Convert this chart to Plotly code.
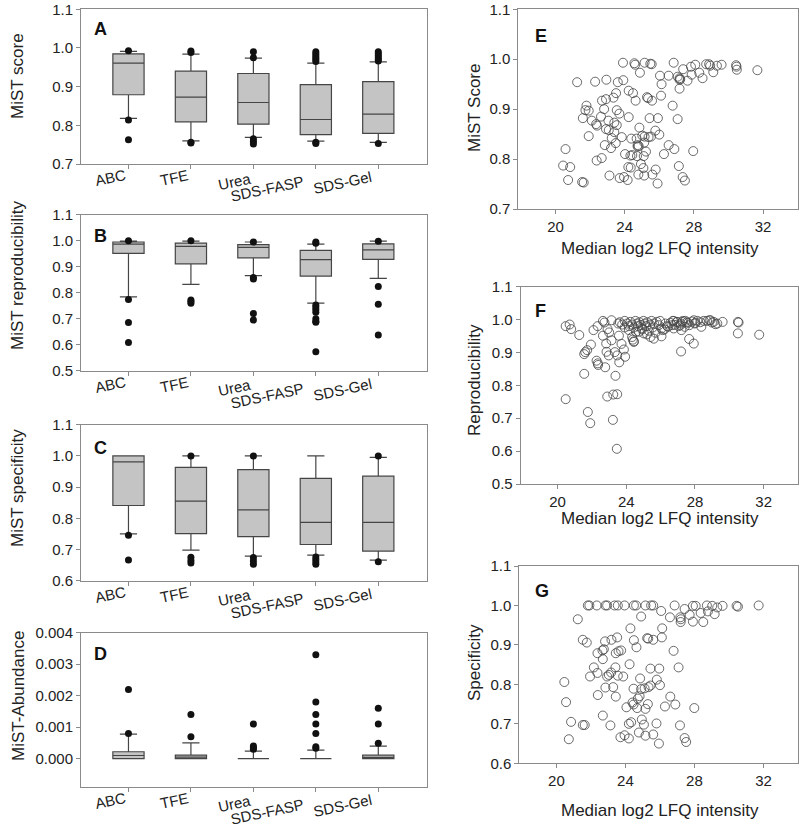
import plotly.graph_objects as go

FONT = "Liberation Sans, Arial, sans-serif"
categories = ["ABC", "TFE", "Urea", "SDS-FASP", "SDS-Gel"]

# ---------- Panel A: MiST score ----------
score_q1 = [0.879, 0.809, 0.803, 0.776, 0.779]
score_median = [0.961, 0.873, 0.859, 0.815, 0.829]
score_q3 = [0.985, 0.940, 0.934, 0.905, 0.913]
score_low = [0.818, 0.760, 0.769, 0.759, 0.756]
score_high = [0.991, 0.984, 0.974, 0.961, 0.964]
score_outliers = [
    [0.993, 0.814, 0.763],
    [0.992, 0.988, 0.754, 0.756],
    [0.990, 0.975, 0.765, 0.758, 0.752],
    [0.990, 0.985, 0.980, 0.975, 0.970, 0.965, 0.753, 0.756],
    [0.990, 0.985, 0.980, 0.975, 0.970, 0.966, 0.753],
]

# ---------- Panel B: MiST reproducibility ----------
repro_q1 = [0.951, 0.911, 0.934, 0.864, 0.928]
repro_median = [0.987, 0.978, 0.974, 0.927, 0.965]
repro_q3 = [0.995, 0.991, 0.985, 0.963, 0.988]
repro_low = [0.784, 0.832, 0.866, 0.760, 0.855]
repro_high = [0.998, 0.998, 0.995, 0.987, 0.998]
repro_outliers = [
    [1.0, 0.774, 0.685, 0.608],
    [1.0, 0.772, 0.766, 0.759],
    [0.995, 0.858, 0.853, 0.720, 0.695],
    [0.995, 0.990, 0.753, 0.745, 0.735, 0.725, 0.700, 0.690, 0.686, 0.573],
    [0.998, 0.824, 0.756, 0.637],
]

# ---------- Panel C: MiST specificity ----------
spec_q1 = [0.841, 0.751, 0.741, 0.716, 0.695]
spec_median = [0.981, 0.855, 0.827, 0.787, 0.787]
spec_q3 = [1.0, 0.963, 0.956, 0.928, 0.935]
spec_low = [0.750, 0.698, 0.679, 0.682, 0.666]
spec_high = [1.0, 1.0, 1.0, 1.0, 0.995]
spec_outliers = [
    [0.746, 0.666],
    [1.0, 0.675, 0.665, 0.657],
    [1.0, 0.674, 0.663, 0.653],
    [0.676, 0.668, 0.660, 0.653],
    [1.0, 0.661],
]

# ---------- Panel D: MiST-Abundance ----------
abund_q1 = [0.0, 0.0, 0.0, 0.0, 0.0]
abund_median = [0.0001, 0.00005, 0.0, 0.0, 0.00004]
abund_q3 = [0.00022, 0.00011, 0.0, 0.0, 0.00011]
abund_low = [0.0, 0.0, 0.0, 0.0, 0.0]
abund_high = [0.00078, 0.0005, 0.00024, 0.00027, 0.0004]
abund_outliers = [
    [0.0008, 0.0022],
    [0.0007, 0.0014],
    [0.0003, 0.00035, 0.0004, 0.0011],
    [0.00033, 0.00038, 0.0008, 0.0011, 0.0014, 0.0018, 0.0033],
    [0.00049, 0.0011, 0.0016],
]

# ---------- Panel E: MiST score vs median log2 LFQ ----------
lfq_E = [23.90, 24.56, 24.60, 25.15, 25.48, 25.56, 26.83, 27.38, 27.83, 28.08, 28.71, 28.88, 28.94, 29.33,
         29.60, 30.44, 30.46, 30.48, 31.67, 24.88, 26.04, 26.54, 27.06, 27.17, 27.21, 27.17, 27.63, 27.87,
         28.31, 28.50, 29.12, 21.25, 22.29, 22.94, 23.60, 23.92, 26.13, 27.17, 24.23, 24.48, 23.50, 23.35,
         22.92, 22.69, 25.29, 25.35, 25.58, 26.10, 24.63, 21.79, 21.73, 21.92, 22.81, 23.54, 23.69, 26.77,
         21.58, 22.63, 22.10, 24.23, 25.44, 25.92, 27.06, 22.35, 22.40, 23.06, 23.40, 23.54, 22.92, 23.08,
         23.40, 21.92, 23.25, 23.83, 24.38, 24.85, 25.02, 24.69, 25.15, 25.38, 25.77, 26.00, 25.52, 22.85,
         23.21, 23.48, 24.75, 24.75, 24.81, 25.13, 25.23, 26.54, 26.87, 27.96, 20.58, 24.02, 24.33, 24.44,
         24.71, 25.10, 26.27, 22.38, 22.67, 20.44, 20.85, 24.21, 24.35, 24.94, 25.08, 25.79, 27.13, 23.12,
         23.71, 23.96, 24.17, 24.79, 25.13, 25.60, 20.73, 21.54, 21.63, 25.90, 27.35, 27.48]
score_E = [0.993, 0.992, 0.989, 0.993, 0.991, 0.990, 0.993, 0.980, 0.985, 0.989, 0.990, 0.990, 0.987, 0.987,
           0.989, 0.988, 0.985, 0.979, 0.978, 0.973, 0.967, 0.967, 0.965, 0.962, 0.960, 0.959, 0.957, 0.969,
           0.973, 0.962, 0.974, 0.954, 0.955, 0.959, 0.954, 0.958, 0.950, 0.941, 0.937, 0.932, 0.932, 0.923,
           0.920, 0.917, 0.924, 0.922, 0.917, 0.927, 0.917, 0.907, 0.898, 0.897, 0.900, 0.898, 0.891, 0.907,
           0.882, 0.885, 0.877, 0.884, 0.882, 0.882, 0.880, 0.870, 0.867, 0.877, 0.873, 0.868, 0.860, 0.858,
           0.854, 0.846, 0.842, 0.844, 0.841, 0.863, 0.847, 0.841, 0.845, 0.844, 0.857, 0.849, 0.845, 0.828,
           0.822, 0.832, 0.828, 0.825, 0.826, 0.833, 0.815, 0.828, 0.820, 0.816, 0.820, 0.810, 0.807, 0.808,
           0.806, 0.806, 0.810, 0.797, 0.802, 0.787, 0.784, 0.784, 0.783, 0.790, 0.782, 0.779, 0.786, 0.767,
           0.762, 0.764, 0.758, 0.769, 0.767, 0.769, 0.758, 0.754, 0.753, 0.751, 0.764, 0.757]

# ---------- Panel F: reproducibility vs median log2 LFQ ----------
lfq_F = [20.47, 20.70, 20.79, 21.26, 22.09, 22.33, 22.64, 22.73, 23.14, 22.91, 23.00, 22.64, 21.94, 21.72,
         21.55, 21.61, 22.27, 22.34, 22.36, 22.77, 22.83, 22.85, 22.98, 23.14, 23.33, 23.47, 23.57, 23.72,
         23.86, 23.93, 23.59, 21.55, 23.37, 22.89, 23.24, 23.47, 20.47, 21.76, 21.90, 23.22, 23.45,
         27.19, 27.66, 27.93, 30.50, 31.74, 30.50, 30.54, 29.61, 29.30, 29.09, 28.90, 28.70, 28.37, 28.02,
         27.93, 27.44, 27.60, 27.25, 27.15, 26.96, 26.76, 26.67, 26.38, 26.22, 26.05, 25.60, 25.21, 24.73,
         24.38, 24.44, 24.92,
         23.53, 23.62, 23.76, 23.91, 24.05, 24.15, 24.24, 24.34, 24.44, 24.53, 24.63, 24.69, 24.77, 24.84,
         24.92, 25.00, 25.08, 25.16, 25.23, 25.31, 25.39, 25.47, 25.54, 25.62, 25.70, 25.78, 25.89, 25.97,
         26.05, 26.12, 26.28, 26.43, 26.57, 26.71, 26.82, 26.94, 27.05, 27.17, 27.29, 27.40, 27.54, 27.67,
         27.83, 27.98, 28.14, 28.31, 28.51, 28.84, 28.99, 29.19, 24.57, 25.02, 25.41, 24.34, 24.44, 24.15,
         23.91, 26.76, 27.21]
repro_F = [0.980, 0.985, 0.971, 0.953, 0.968, 0.980, 0.996, 0.991, 0.998, 0.971, 0.961, 0.951, 0.924, 0.907,
           0.895, 0.901, 0.875, 0.867, 0.862, 0.855, 0.927, 0.902, 0.891, 0.937, 0.901, 0.891, 0.951, 0.926,
           0.909, 0.887, 0.870, 0.835, 0.829, 0.766, 0.772, 0.773, 0.758, 0.719, 0.685, 0.695, 0.607,
           0.903, 0.941, 0.927, 0.958, 0.954, 0.993, 0.991, 0.993, 0.988, 0.993, 0.998, 0.996, 0.978, 0.990,
           0.998, 0.996, 0.990, 0.993, 0.983, 0.993, 0.996, 0.983, 0.980, 0.970, 0.949, 0.942, 0.955, 0.963,
           0.939, 0.932, 0.970,
           0.988, 0.992, 0.985, 0.996, 0.988, 0.980, 0.993, 0.985, 0.976, 0.996, 0.988, 0.980, 0.992, 0.984,
           0.973, 0.996, 0.988, 0.980, 0.992, 0.966, 0.985, 0.996, 0.976, 0.988, 0.960, 0.993, 0.983, 0.996,
           0.973, 0.968, 0.988, 0.978, 0.990, 0.996, 0.984, 0.993, 0.980, 0.988, 0.996, 0.978, 0.992, 0.983,
           0.994, 0.988, 0.996, 0.992, 0.996, 0.998, 0.991, 0.986, 0.963, 0.958, 0.947, 0.947, 0.934, 0.968,
           0.976, 0.973, 0.968]

# ---------- Panel G: specificity vs median log2 LFQ ----------
lfq_G = [21.82, 21.91, 22.34, 22.84, 22.94, 23.37, 23.56, 23.95, 24.49, 24.62, 25.16, 25.49, 25.61, 26.85,
         27.91, 28.07, 28.72, 29.03, 29.32, 29.63, 30.44, 30.52, 31.72,
         26.07, 27.43, 27.72, 28.36, 28.78, 29.17, 24.91, 26.58, 27.18, 27.21, 27.20, 27.91, 28.51, 21.24,
         24.29, 26.13, 26.11, 25.26, 25.32, 25.61, 24.49, 21.53, 21.76, 22.82, 23.19, 23.52, 24.64, 26.79,
         22.75, 22.67, 22.38, 23.44, 23.60, 23.75, 22.69,
         24.24, 27.08, 25.45, 25.96, 22.17, 23.42, 22.38, 21.95, 22.94, 23.04, 23.17, 23.56, 23.87, 24.85,
         25.82, 26.00, 25.45, 25.34, 25.11, 24.91, 24.47, 22.84, 23.29, 20.46,
         22.40, 23.44, 24.82, 24.72, 26.60, 20.56, 24.41, 24.47, 24.06, 24.68, 25.16, 25.30, 26.29, 26.89,
         27.99,
         22.69, 23.13, 20.85, 21.53, 21.64, 24.20, 24.33, 24.95, 25.07, 25.80, 27.16, 20.72, 23.71, 23.95,
         24.20, 24.78, 25.16, 25.61, 25.94, 27.43, 27.52]
spec_G = [1.0, 1.0, 1.0, 1.0, 1.0, 1.0, 1.0, 1.0, 1.0, 1.0, 1.0, 1.0, 1.0, 1.0,
          0.999, 0.999, 1.0, 0.999, 0.995, 0.999, 0.999, 0.997, 1.0,
          0.986, 0.991, 0.976, 0.981, 0.985, 0.978, 0.972, 0.970, 0.970, 0.965, 0.958, 0.959, 0.958, 0.965,
          0.942, 0.942, 0.919, 0.917, 0.916, 0.913, 0.912, 0.913, 0.906, 0.909, 0.913, 0.919, 0.894, 0.885,
          0.889, 0.886, 0.879, 0.879, 0.884, 0.886, 0.864,
          0.851, 0.843, 0.840, 0.840, 0.843, 0.843, 0.829, 0.820, 0.820, 0.824, 0.830, 0.822, 0.820, 0.815,
          0.812, 0.798, 0.797, 0.793, 0.790, 0.788, 0.789, 0.792, 0.793, 0.806,
          0.773, 0.769, 0.770, 0.764, 0.769, 0.755, 0.754, 0.749, 0.742, 0.740, 0.738, 0.750, 0.744, 0.749,
          0.740,
          0.721, 0.696, 0.705, 0.697, 0.697, 0.700, 0.704, 0.711, 0.698, 0.701, 0.696, 0.661, 0.666, 0.671,
          0.663, 0.678, 0.670, 0.673, 0.650, 0.664, 0.654]

W, H = 800, 826
AXIS_COLOR = "#8a8a8a"
TEXT_COLOR = "#222222"


def px_x(p):
    return p / W


def px_y(p):
    return 1 - p / H


fig = go.Figure()

box_panels = [
    ("", score_q1, score_median, score_q3, score_low, score_high, score_outliers, (9.3, 164.0), [0.7, 1.1], 0.1, ".1f", "MiST score", 76, "A", 17),
    ("2", repro_q1, repro_median, repro_q3, repro_low, repro_high, repro_outliers, (214.7, 370.7), [0.5, 1.1], 0.1, ".1f", "MiST reproducibility", 276, "B", 224),
    ("3", spec_q1, spec_median, spec_q3, spec_low, spec_high, spec_outliers, (424.7, 580.7), [0.6, 1.1], 0.1, ".1f", "MiST specificity", 488, "C", 436),
    ("4", abund_q1, abund_median, abund_q3, abund_low, abund_high, abund_outliers, (632.7, 786.7), [-0.00089, 0.004], 0.001, ".3f", "MiST-Abundance", 696, "D", 642),
]

label_shift = [(1, 0), (1, 0), (1, -3), (-8, -6), (-3, -2)]

annotations = []
for suffix, q1, med, q3, lo, hi, outs, (top, bot), rng, dt, fmt, title, title_y, letter, letter_y in box_panels:
    xa = "x" + suffix
    ya = "y" + suffix
    for i, cat in enumerate(categories):
        fig.add_trace(go.Box(
            x=[i], q1=[q1[i]], median=[med[i]], q3=[q3[i]],
            lowerfence=[lo[i]], upperfence=[hi[i]],
            width=0.5, whiskerwidth=0.55, boxpoints=False,
            fillcolor="#c4c4c4", line=dict(color="#454545", width=1.2),
            xaxis=xa, yaxis=ya, showlegend=False, name=cat,
        ))
    ox, oy = [], []
    for i, vals in enumerate(outs):
        for v in vals:
            ox.append(i)
            oy.append(v)
    fig.add_trace(go.Scatter(
        x=ox, y=oy, mode="markers",
        marker=dict(color="#111111", size=7, symbol="circle"),
        xaxis=xa, yaxis=ya, showlegend=False,
    ))
    fig.layout["xaxis" + suffix] = dict(
        domain=[px_x(81), px_x(427)], range=[-0.76, 4.78], anchor=ya,
        tickvals=list(range(5)), showticklabels=False, ticks="outside", ticklen=4,
        tickcolor=AXIS_COLOR, showline=True, linecolor=AXIS_COLOR, linewidth=1,
        mirror=True, showgrid=False, zeroline=False, automargin=False,
    )
    fig.layout["yaxis" + suffix] = dict(
        domain=[px_y(bot), px_y(top)], range=[rng[0], rng[1] + dt * 1e-6], anchor=xa,
        dtick=dt, tick0=0,
        tickformat=fmt, ticks="outside", ticklen=4, tickcolor=AXIS_COLOR,
        showline=True, linecolor=AXIS_COLOR, linewidth=1, mirror=True,
        showgrid=False, zeroline=False, automargin=False, ticklabeloverflow="allow",
        tickfont=dict(family=FONT, size=15, color=TEXT_COLOR),
    )
    for i, cat in enumerate(categories):
        dx, dy = label_shift[i]
        annotations.append(dict(
            x=i, y=px_y(bot), xref=xa, yref="paper", text=cat, showarrow=False,
            textangle=-12, xanchor="right", yanchor="top", xshift=dx, yshift=dy,
            font=dict(family=FONT, size=15, color=TEXT_COLOR),
        ))
    annotations.append(dict(
        x=px_x(18), y=px_y(title_y), xref="paper", yref="paper", text=title,
        showarrow=False, textangle=-90, xanchor="center", yanchor="middle",
        font=dict(family=FONT, size=17, color=TEXT_COLOR),
    ))
    annotations.append(dict(
        x=px_x(92), y=px_y(letter_y), xref="paper", yref="paper", text="<b>" + letter + "</b>",
        showarrow=False, xanchor="left", yanchor="top",
        font=dict(family=FONT, size=18, color="#111111"),
    ))

scatter_panels = [
    ("5", lfq_E, score_E, (518.3, 797.7), (9.3, 209.0), [0.7, 1.1], "MiST Score", 108, 249, "E", 24),
    ("6", lfq_F, repro_F, (520.7, 798.0), (286.7, 484.0), [0.5, 1.1], "Reproducibility", 380, 518, "F", 299),
    ("7", lfq_G, spec_G, (519.3, 798.0), (566.0, 763.3), [0.6, 1.1], "Specificity", 663, 810, "G", 579),
]

for suffix, xs, ys, (left, right), (top, bot), rng, title, title_y, xtitle_y, letter, letter_y in scatter_panels:
    xa = "x" + suffix
    ya = "y" + suffix
    fig.add_trace(go.Scatter(
        x=xs, y=ys, mode="markers",
        marker=dict(symbol="circle-open", size=9, color="rgba(70,70,70,0.8)", line=dict(width=1)),
        xaxis=xa, yaxis=ya, showlegend=False,
    ))
    fig.layout["xaxis" + suffix] = dict(
        domain=[px_x(left), px_x(right)], range=[17.85, 34.0], anchor=ya,
        tickvals=[20, 24, 28, 32], ticks="outside", ticklen=4, tickcolor=AXIS_COLOR,
        showline=True, linecolor=AXIS_COLOR, linewidth=1, mirror=True,
        showgrid=False, zeroline=False, automargin=False, ticklabeloverflow="allow",
        tickfont=dict(family=FONT, size=15, color=TEXT_COLOR),
    )
    fig.layout["yaxis" + suffix] = dict(
        domain=[px_y(bot), px_y(top)], range=[rng[0], rng[1] + 1e-7], anchor=xa,
        dtick=0.1, tick0=0,
        tickformat=".1f", ticks="outside", ticklen=4, tickcolor=AXIS_COLOR,
        showline=True, linecolor=AXIS_COLOR, linewidth=1, mirror=True,
        showgrid=False, zeroline=False, automargin=False, ticklabeloverflow="allow",
        tickfont=dict(family=FONT, size=15, color=TEXT_COLOR),
    )
    annotations.append(dict(
        x=px_x(474), y=px_y(title_y), xref="paper", yref="paper", text=title,
        showarrow=False, textangle=-90, xanchor="center", yanchor="middle",
        font=dict(family=FONT, size=17, color=TEXT_COLOR),
    ))
    annotations.append(dict(
        x=px_x(660), y=px_y(xtitle_y), xref="paper", yref="paper", text="Median log2 LFQ intensity",
        showarrow=False, xanchor="center", yanchor="middle",
        font=dict(family=FONT, size=17, color=TEXT_COLOR),
    ))
    annotations.append(dict(
        x=px_x(533), y=px_y(letter_y), xref="paper", yref="paper", text="<b>" + letter + "</b>",
        showarrow=False, xanchor="left", yanchor="top",
        font=dict(family=FONT, size=18, color="#111111"),
    ))

fig.update_layout(
    template="none",
    width=W, height=H, margin=dict(l=0, r=0, t=0, b=0, pad=0, autoexpand=False),
    paper_bgcolor="white", plot_bgcolor="white",
    boxmode="overlay", annotations=annotations,
    font=dict(family=FONT, color=TEXT_COLOR),
)

# Remove the browser's default 8 px page margin so the 800x826 figure fills the window exactly.
fig.write_html(
    "out.html",
    config={"displayModeBar": False},
    post_script="document.body.style.margin='0px';",
)
